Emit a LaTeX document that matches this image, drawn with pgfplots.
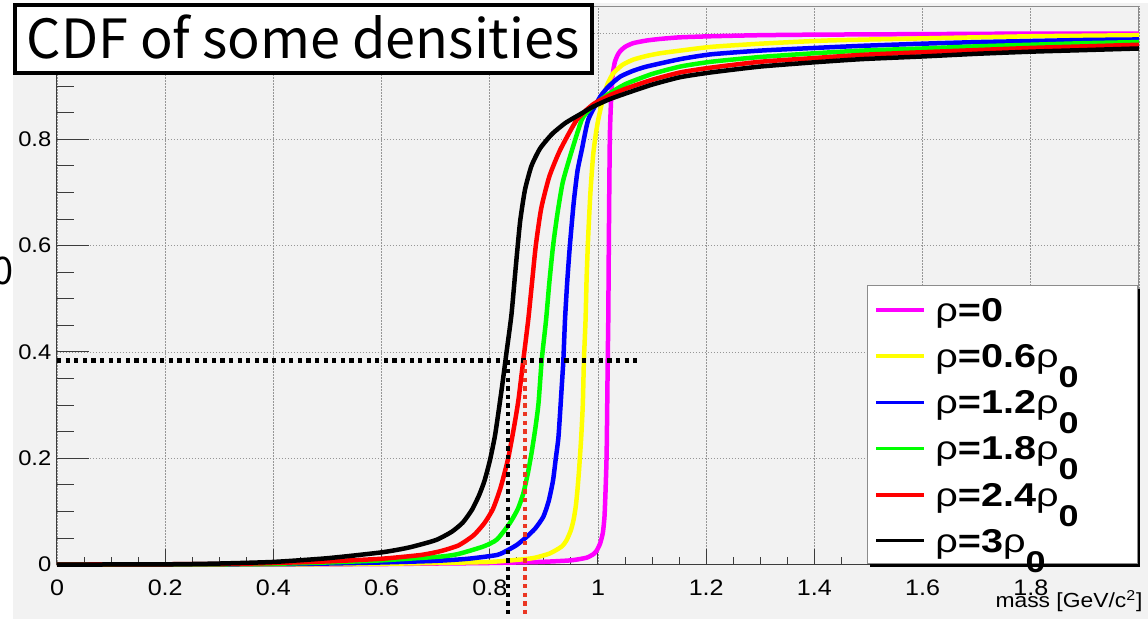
\documentclass[border=0pt]{standalone}
\usepackage{pgfplots}
\pgfplotsset{compat=1.18}
\usepackage{graphicx}
\usepackage{fontspec}
\setmainfont{Liberation Sans}
\newfontfamily\titlefont{Noto Sans CJK JP}
\newfontfamily\legfont[FakeStretch=1.2]{Liberation Sans}
\newfontfamily\tickfont[FakeStretch=1.12]{Liberation Sans}
\definecolor{bg}{RGB}{242,242,242}
\definecolor{dred}{RGB}{235,55,35}
\definecolor{axgray}{RGB}{60,60,60}
\definecolor{frgray}{RGB}{140,140,140}
\definecolor{grgray}{RGB}{150,150,150}
\definecolor{cmag}{RGB}{255,0,255}
\definecolor{cyel}{RGB}{255,255,0}
\definecolor{cblu}{RGB}{0,0,255}
\definecolor{cgrn}{RGB}{0,255,0}
\definecolor{cred}{RGB}{255,0,0}
\begin{document}
\begin{tikzpicture}
\useasboundingbox (0,0) rectangle (574pt,309.5pt);
\fill[white] (0,0) rectangle (574pt,309.5pt);
\fill[bg] (6.35pt,0) rectangle (574pt,308pt);
\begin{axis}[
  at={(28.5pt,27.2pt)}, anchor=south west,
  scale only axis, width=541pt, height=279.05pt,
  xmin=0, xmax=2, ymin=0, ymax=1.05,
  axis x line*=bottom, axis y line*=left,
  axis line style={axgray, line width=0.5pt, -},
  tick align=inside,
  xtick={0,0.2,0.4,0.6,0.8,1,1.2,1.4,1.6,1.8,2},
  xticklabels={0,0.2,0.4,0.6,0.8,1,1.2,1.4,1.6,1.8,},
  ytick={0,0.2,0.4,0.6,0.8,1},
  yticklabels={0,0.2,0.4,0.6,0.8,},
  minor x tick num=3, minor y tick num=3,
  tick style={axgray, line width=0.5pt},
  xtick style={/pgfplots/major tick length=7.85pt,/pgfplots/minor tick length=3.85pt},
  ytick style={/pgfplots/major tick length=16pt,/pgfplots/minor tick length=8.3pt},
  xticklabel style={font=\tickfont\fontsize{11.2}{11.2}\selectfont, anchor=north, inner sep=0pt, yshift=-7.4pt},
  yticklabel style={font=\tickfont\fontsize{10.6}{10.6}\selectfont, anchor=east, inner sep=0pt, xshift=-2.65pt},
  grid=major,
  major grid style={grgray, line width=0.4pt, dash pattern=on 0.6pt off 0.9pt},
  xlabel={mass [GeV/c\textsuperscript{2}]},
  xlabel style={at={(axis description cs:1.0037,-0.077)}, anchor=base east, font=\tickfont\fontsize{10.2}{10.2}\selectfont, inner sep=0pt},
  clip=false,
  every axis plot/.append style={line width=2.25pt, line join=round, no markers, smooth, tension=0.35},
]
\draw[frgray, line width=0.5pt] (rel axis cs:0,1) -- (rel axis cs:1,1) -- (rel axis cs:1,0);
% rho = 0
\addplot[cmag] coordinates {(0,0) (0.5,0.0005) (0.6,0.001) (0.7,0.002) (0.8,0.003) (0.893,0.005) (0.95,0.008) (0.979,0.013) (0.992,0.02) (0.998,0.027) (1.004,0.040) (1.009,0.060) (1.012,0.09) (1.014,0.14) (1.016,0.21) (1.018,0.385) (1.019,0.46) (1.020,0.60) (1.021,0.72) (1.022,0.81) (1.024,0.87) (1.027,0.92) (1.031,0.945) (1.036,0.958) (1.041,0.966) (1.05,0.974) (1.065,0.981) (1.09,0.986) (1.115,0.989) (1.152,0.992) (1.209,0.994) (1.3,0.996) (1.4,0.997) (1.6,0.998) (1.8,0.999) (2.0,0.999)};
% rho = 0.6 rho0
\addplot[cyel] coordinates {(0,0) (0.45,0.0005) (0.6,0.0015) (0.7,0.003) (0.8,0.005) (0.862,0.010) (0.884,0.013) (0.911,0.021) (0.933,0.034) (0.942,0.046) (0.95,0.065) (0.955,0.085) (0.959,0.11) (0.962,0.14) (0.965,0.178) (0.969,0.24) (0.972,0.303) (0.974,0.385) (0.977,0.46) (0.979,0.54) (0.982,0.62) (0.986,0.70) (0.991,0.77) (0.996,0.81) (1.001,0.84) (1.010,0.88) (1.018,0.905) (1.028,0.924) (1.045,0.940) (1.065,0.950) (1.09,0.957) (1.115,0.962) (1.152,0.967) (1.209,0.974) (1.3,0.980) (1.424,0.986) (1.6,0.990) (1.7,0.992) (1.8,0.994) (1.9,0.995) (2.0,0.996)};
% rho = 1.2 rho0
\addplot[cblu] coordinates {(0,0) (0.4,0.0008) (0.5,0.002) (0.6,0.004) (0.7,0.007) (0.76,0.011) (0.813,0.018) (0.831,0.026) (0.85,0.037) (0.868,0.052) (0.884,0.068) (0.899,0.09) (0.909,0.12) (0.917,0.159) (0.922,0.20) (0.927,0.241) (0.933,0.335) (0.936,0.385) (0.939,0.46) (0.943,0.53) (0.948,0.60) (0.955,0.68) (0.962,0.74) (0.970,0.78) (0.982,0.837) (1.004,0.88) (1.02,0.90) (1.041,0.918) (1.065,0.929) (1.09,0.937) (1.152,0.951) (1.209,0.960) (1.3,0.967) (1.4,0.972) (1.488,0.976) (1.6,0.980) (1.7,0.983) (1.8,0.985) (1.9,0.987) (2.0,0.988)};
% rho = 1.8 rho0
\addplot[cgrn] coordinates {(0,0) (0.35,0.0008) (0.5,0.004) (0.6,0.008) (0.708,0.015) (0.742,0.020) (0.788,0.034) (0.813,0.047) (0.837,0.078) (0.852,0.105) (0.862,0.134) (0.870,0.17) (0.877,0.209) (0.884,0.255) (0.890,0.303) (0.896,0.385) (0.904,0.46) (0.910,0.53) (0.917,0.60) (0.925,0.66) (0.935,0.72) (0.952,0.78) (0.970,0.837) (0.985,0.857) (1.004,0.874) (1.03,0.892) (1.053,0.905) (1.1,0.923) (1.152,0.937) (1.209,0.946) (1.3,0.955) (1.4,0.962) (1.488,0.967) (1.6,0.971) (1.7,0.975) (1.8,0.978) (1.9,0.981) (2.0,0.983)};
% rho = 2.4 rho0
\addplot[cred] coordinates {(0,0) (0.3,0.001) (0.4,0.003) (0.5,0.006) (0.6,0.011) (0.672,0.018) (0.708,0.025) (0.742,0.036) (0.77,0.055) (0.79,0.078) (0.806,0.105) (0.82,0.145) (0.834,0.20) (0.845,0.26) (0.853,0.31) (0.862,0.385) (0.871,0.46) (0.878,0.53) (0.885,0.60) (0.895,0.67) (0.91,0.73) (0.93,0.78) (0.961,0.837) (0.991,0.866) (1.02,0.882) (1.053,0.896) (1.1,0.912) (1.152,0.926) (1.209,0.935) (1.3,0.946) (1.4,0.953) (1.488,0.959) (1.6,0.964) (1.7,0.968) (1.8,0.972) (1.9,0.975) (2.0,0.978)};
% rho = 3 rho0
\addplot[black] coordinates {(0,0) (0.2,0.0005) (0.3,0.002) (0.4,0.005) (0.5,0.012) (0.6,0.023) (0.65,0.032) (0.7,0.046) (0.73,0.062) (0.75,0.079) (0.767,0.103) (0.78,0.13) (0.79,0.157) (0.8,0.195) (0.81,0.245) (0.822,0.33) (0.831,0.40) (0.84,0.47) (0.848,0.56) (0.856,0.645) (0.865,0.705) (0.877,0.75) (0.893,0.783) (0.915,0.81) (0.94,0.831) (0.97,0.849) (0.99,0.861) (1.02,0.875) (1.053,0.887) (1.1,0.903) (1.152,0.917) (1.209,0.926) (1.3,0.937) (1.4,0.945) (1.488,0.951) (1.6,0.956) (1.7,0.961) (1.8,0.965) (1.9,0.968) (2.0,0.971)};
% dotted guide lines
\addplot[black, sharp plot, line width=2.1pt, line cap=butt, dash pattern=on 2.15pt off 2.15pt] coordinates {(0,0.384) (1.078,0.384)};
\addplot[black, sharp plot, line width=2.1pt, line cap=butt, dash pattern=on 2.15pt off 2.15pt] coordinates {(0.834,0.384) (0.834,-0.099)};
\addplot[dred, sharp plot, line width=2pt, line cap=butt, dash pattern=on 2.15pt off 2.15pt] coordinates {(0.865,0.384) (0.865,-0.099)};
\end{axis}
\begin{scope}[x=0.5pt, y=-0.5pt, yshift=309.5pt]
  % title box
  \draw[black, line width=2pt, fill=white] (15,5) rectangle (592,73);
  \node[font=\titlefont\fontsize{27}{27}\selectfont, anchor=base, inner sep=0pt] at (303,59) {CDF of some densities};
  % cut-off glyph at left edge
  \node[font=\titlefont\fontsize{19}{19}\selectfont, anchor=east, inner sep=0pt] at (13.5,270.5) {0};
  % legend
  \fill[black] (870,289) rectangle (1140,567);
  \draw[frgray, line width=0.5pt, fill=white] (867,286) rectangle (1137,564);
  \foreach \yy/\cc in {310/cmag, 356/cyel, 402.3/cblu, 448.3/cgrn, 495/cred, 540.7/black}{
    \draw[\cc, line width=1.65pt] (876,\yy) -- (924,\yy);
  }
  \begin{scope}[every node/.style={anchor=base west, inner sep=0pt, font=\legfont\bfseries\fontsize{16.5}{16.5}\selectfont}]
  \node at (935,321.5) {{\mdseries ρ}=0};
  \node at (935,367.5) {{\mdseries ρ}=0.6{\mdseries ρ}\raisebox{-10pt}{\fontsize{15}{15}\selectfont 0}};
  \node at (935,413.8) {{\mdseries ρ}=1.2{\mdseries ρ}\raisebox{-10pt}{\fontsize{15}{15}\selectfont 0}};
  \node at (935,459.8) {{\mdseries ρ}=1.8{\mdseries ρ}\raisebox{-10pt}{\fontsize{15}{15}\selectfont 0}};
  \node at (935,506.5) {{\mdseries ρ}=2.4{\mdseries ρ}\raisebox{-10pt}{\fontsize{15}{15}\selectfont 0}};
  \node at (935,552.2) {{\mdseries ρ}=3{\mdseries ρ}\raisebox{-10pt}{\fontsize{15}{15}\selectfont 0}};
  \end{scope}
\end{scope}
\end{tikzpicture}
\end{document}
